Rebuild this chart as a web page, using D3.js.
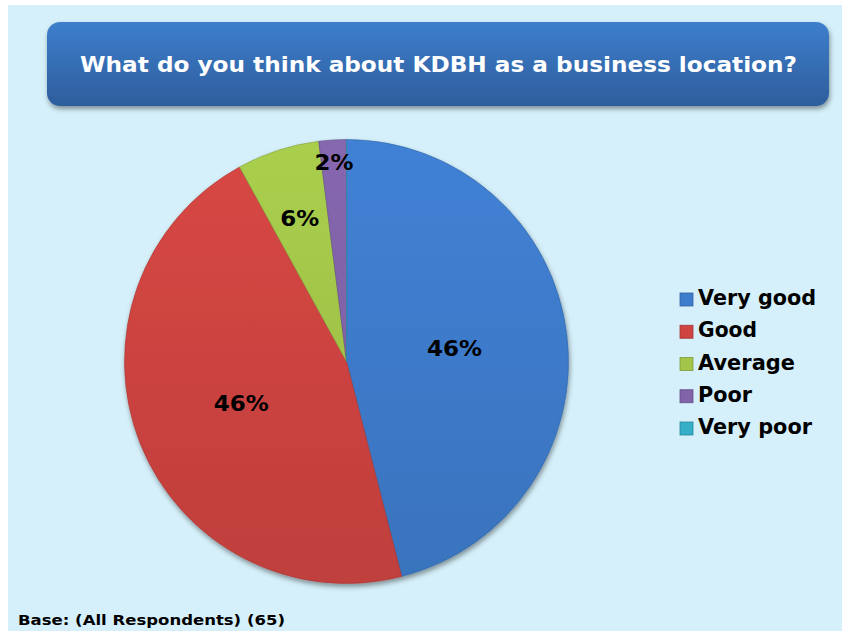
<!DOCTYPE html>
<html lang="en">
<head>
<meta charset="UTF-8">
<title>KDBH as a business location</title>
<script src="https://d3js.org/d3.v7.min.js"></script>
<style>
  body, html { margin: 0; padding: 0; background: #fff; }
  svg text { font-family: "DejaVu Sans", Verdana, sans-serif; font-weight: bold; }
</style>
</head>
<body>
<div id="chart"></div>
<script>
// Data
const categories = ["Very good", "Good", "Average", "Poor", "Very poor"];
const values = [46, 46, 6, 2, 0];
const colors = ["#3e7ccc", "#cf4441", "#a3c64a", "#8063a9", "#35aec7"];
const titleText = "What do you think about KDBH as a business location?";
const baseText = "Base: (All Respondents) (65)";

// layout
const width = 842, height = 631;
const cx = 346.5, cy = 361.5, R = 222;
const labelRadius = [0.49, 0.51, 0.68, 0.9, 0.8];

const svg = d3.select("#chart").append("svg")
    .attr("width", width)
    .attr("height", height);

const defs = svg.append("defs");

// drop shadow
const shadow = defs.append("filter").attr("id", "shadow")
    .attr("x", "-10%").attr("y", "-10%").attr("width", "120%").attr("height", "130%");
shadow.append("feDropShadow")
    .attr("dx", 1).attr("dy", 3).attr("stdDeviation", 2.5)
    .attr("flood-color", "#000").attr("flood-opacity", 0.4);

// title gradient
const tg = defs.append("linearGradient").attr("id", "titleGrad")
    .attr("x1", 0).attr("y1", 0).attr("x2", 0).attr("y2", 1);
tg.append("stop").attr("offset", "0%").attr("stop-color", "#3d7ecc");
tg.append("stop").attr("offset", "100%").attr("stop-color", "#2e5e9c");

// slice gradients, lighter at the top of the pie
colors.forEach((c, i) => {
    const lg = defs.append("linearGradient").attr("id", "slice" + i)
        .attr("gradientUnits", "userSpaceOnUse")
        .attr("x1", 0).attr("y1", -R).attr("x2", 0).attr("y2", R);
    lg.append("stop").attr("offset", "0%").attr("stop-color", d3.color(c).brighter(0.12));
    lg.append("stop").attr("offset", "100%").attr("stop-color", d3.color(c).darker(0.22));
});

// background panel
svg.append("rect")
    .attr("x", 8).attr("y", 5)
    .attr("width", width - 8).attr("height", height - 5)
    .attr("fill", "#d5f0fa");

// title box
svg.append("rect")
    .attr("x", 47).attr("y", 22)
    .attr("width", 782).attr("height", 84)
    .attr("rx", 13)
    .attr("fill", "url(#titleGrad)")
    .attr("filter", "url(#shadow)");

svg.append("text")
    .attr("x", 80).attr("y", 72)
    .attr("fill", "#fff")
    .attr("font-size", 21)
    .attr("textLength", 717)
    .attr("lengthAdjust", "spacingAndGlyphs")
    .text(titleText);

// pie
const pie = d3.pie().sort(null).value(d => d);
const arcs = pie(values);
const arc = d3.arc().innerRadius(0).outerRadius(R);

const g = svg.append("g").attr("transform", `translate(${cx},${cy})`);

g.append("g").attr("filter", "url(#shadow)")
    .selectAll("path")
    .data(arcs)
    .enter()
    .append("path")
    .attr("d", arc)
    .attr("fill", (d, i) => `url(#slice${i})`)
    .attr("stroke", (d, i) => d3.color(colors[i]).darker(0.6))
    .attr("stroke-width", 0.6);

// slice labels
const labelWidth = { 2: 55, 1: 39 };
g.selectAll("text.lbl")
    .data(arcs.filter(d => d.data > 0))
    .enter()
    .append("text")
    .attr("class", "lbl")
    .attr("transform", d => {
        const r = R * labelRadius[d.index];
        const a = (d.startAngle + d.endAngle) / 2;
        return `translate(${r * Math.sin(a)},${-r * Math.cos(a) + 8})`;
    })
    .attr("text-anchor", "middle")
    .attr("font-size", 21)
    .attr("fill", "#000")
    .attr("textLength", d => labelWidth[String(d.data).length])
    .attr("lengthAdjust", "spacingAndGlyphs")
    .text(d => d.data + "%");

// legend
const legendWidths = [118, 59, 97, 54, 114];
const legend = svg.append("g").attr("transform", "translate(680,305)");
const rowH = 32.25;
const items = legend.selectAll("g")
    .data(categories)
    .enter()
    .append("g")
    .attr("transform", (d, i) => `translate(0,${i * rowH})`);
items.append("rect")
    .attr("x", 0).attr("y", -12)
    .attr("width", 13).attr("height", 13)
    .attr("fill", (d, i) => colors[i])
    .attr("stroke", (d, i) => d3.color(colors[i]).darker(0.7))
    .attr("stroke-width", 0.8);
items.append("text")
    .attr("x", 18).attr("y", 0)
    .attr("font-size", 20.5)
    .attr("fill", "#000")
    .attr("textLength", (d, i) => legendWidths[i])
    .attr("lengthAdjust", "spacingAndGlyphs")
    .text(d => d);

// base note
svg.append("text")
    .attr("x", 18).attr("y", 625)
    .attr("font-size", 13.5)
    .attr("fill", "#000")
    .attr("textLength", 267)
    .attr("lengthAdjust", "spacingAndGlyphs")
    .text(baseText);
</script>
</body>
</html>
